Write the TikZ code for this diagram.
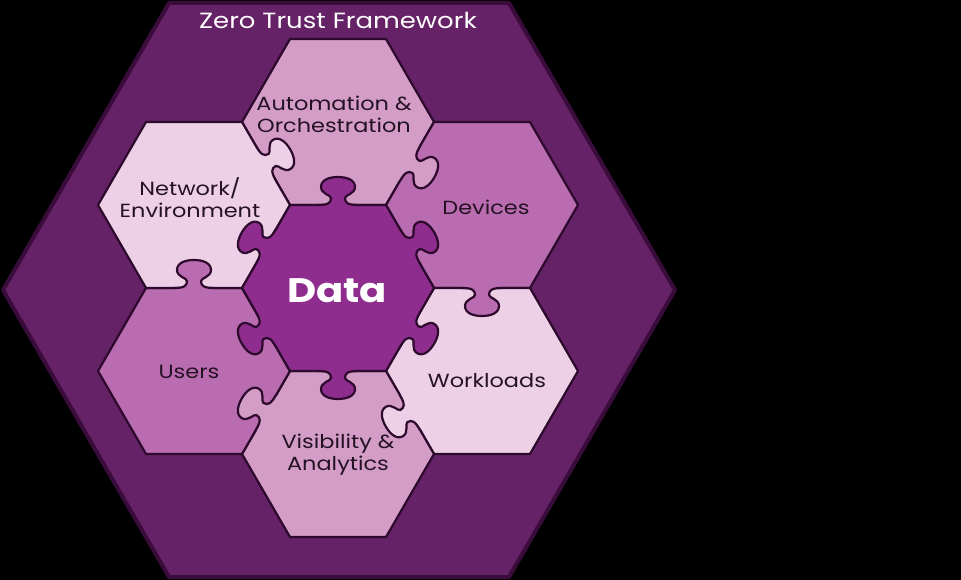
\documentclass[tikz,border=0pt]{standalone}
\usepackage{fontspec}
\setmainfont{Poppins}[FakeStretch=1.18]
\definecolor{bgouter}{RGB}{101,34,102}
\definecolor{outerline}{RGB}{58,12,60}
\definecolor{pline}{RGB}{45,10,45}
\definecolor{cdata}{RGB}{142,45,142}
\definecolor{clight}{RGB}{238,208,230}
\definecolor{cmid}{RGB}{212,157,200}
\definecolor{cdark}{RGB}{186,108,176}
\definecolor{ctext}{RGB}{36,18,36}
\tikzset{
  piece/.style={draw=pline, line width=2.2pt, line join=round},
  lbl/.style={text=ctext, font=\fontsize{19}{22}\selectfont, align=center, inner sep=0pt},
  knobline/.style={draw=pline, line width=2.2pt, line cap=round}
}
\newcommand{\hexat}[3]{%
  \draw[piece, fill=#3, shift={(#1,#2)}] (-96,0) -- (-48,-83) -- (48,-83) -- (96,0) -- (48,83) -- (-48,83) -- cycle;}
\newcommand{\knobat}[4]{%
  \begin{scope}[shift={(#1,#2)}, rotate=#3]
    \fill[#4] (-20,-3) -- (-20,0) .. controls (-10,0) and (-7,2) .. (-7,7)
      .. controls (-7,10) and (-17,11) .. (-17,18)
      .. controls (-17,25) and (-9,28) .. (0,28)
      .. controls (9,28) and (17,25) .. (17,18)
      .. controls (17,11) and (7,10) .. (7,7)
      .. controls (7,2) and (10,0) .. (20,0) -- (20,-3) -- cycle;
    \draw[knobline] (-20,0) .. controls (-10,0) and (-7,2) .. (-7,7)
      .. controls (-7,10) and (-17,11) .. (-17,18)
      .. controls (-17,25) and (-9,28) .. (0,28)
      .. controls (9,28) and (17,25) .. (17,18)
      .. controls (17,11) and (7,10) .. (7,7)
      .. controls (7,2) and (10,0) .. (20,0);
  \end{scope}}
\begin{document}
\begin{tikzpicture}[x=1pt,y=-1pt]
\fill[black] (0,0) rectangle (961,580);
\useasboundingbox (0,0) rectangle (961,580);
% outer hexagon
\draw[fill=bgouter, draw=outerline, line width=4pt, line join=round]
  (3,290) -- (169,3) -- (509,3) -- (675,290) -- (509,577) -- (169,577) -- cycle;
% pieces
\hexat{338}{122}{cmid}
\hexat{482}{205}{cdark}
\hexat{482}{371}{clight}
\hexat{338}{454}{cmid}
\hexat{194}{371}{cdark}
\hexat{194}{205}{clight}
\hexat{338}{288}{cdata}
% knobs from Data
\knobat{338}{205}{180}{cdata}
\knobat{410}{246.5}{120}{cdata}
\knobat{410}{329.5}{60}{cdata}
\knobat{338}{371}{0}{cdata}
\knobat{266}{329.5}{-60}{cdata}
\knobat{266}{246.5}{240}{cdata}
% knobs between outer pieces
\knobat{194}{288}{180}{cdark}
\knobat{266}{163.5}{120}{clight}
\knobat{410}{163.5}{60}{cmid}
\knobat{482}{288}{0}{cdark}
\knobat{410}{412.5}{-60}{clight}
\knobat{266}{412.5}{240}{cmid}
% labels
\node[text=white, font=\fontsize{22}{24}\selectfont, inner sep=0pt] (title) at (338,20) {Zero Trust Framework};
\node[lbl] (auto) at (334,114) {Automation \&\\Orchestration};
\node[lbl] (net) at (190,198) {Network/\\Environment};
\node[lbl] (dev) at (486,207) {Devices};
\node[lbl] (users) at (189,372) {Users};
\node[lbl] (work) at (487,381) {Workloads};
\node[lbl] (vis) at (338,455) {Visibility \&\\Analytics};
\node[text=white, font=\fontsize{34}{36}\selectfont\bfseries, inner sep=0pt] (data) at (337,291) {Data};
\end{tikzpicture}
\end{document}
